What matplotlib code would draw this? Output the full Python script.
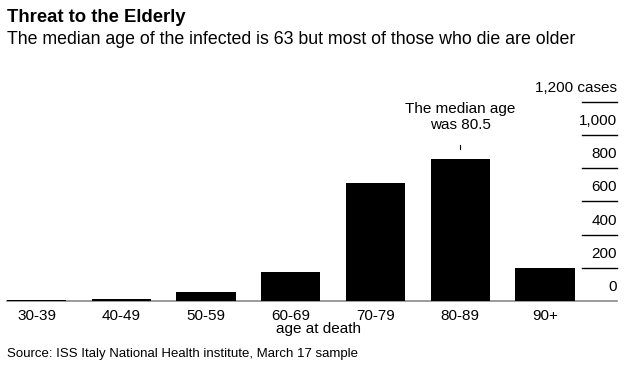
import matplotlib
matplotlib.use("Agg")
import matplotlib.pyplot as plt
from matplotlib.transforms import blended_transform_factory

plt.rcParams['font.family'] = ['Liberation Sans', 'DejaVu Sans']

age_groups = ['30-39', '40-49', '50-59', '60-69', '70-79', '80-89', '90+']
deaths = [6, 14, 54, 175, 710, 855, 198]
y_ticks = [0, 200, 400, 600, 800, 1000, 1200]
y_labels = ['0', '200', '400', '600', '800', '1,000', '1,200 cases']

W, H = 638, 369
fig = plt.figure(figsize=(W / 100, H / 100), dpi=100)

# axes placed in pixel terms: baseline at y=301, 1,200 line at y=101.7
left, right, bottom, top = 7, 617, 301, 101.7
ax = fig.add_axes([left / W, 1 - bottom / H, (right - left) / W, (bottom - top) / H])

x = list(range(len(age_groups)))
ax.bar(x, deaths, width=0.7, color='black', zorder=3)
ax.set_xlim(-0.348, 6.85)
ax.set_ylim(0, 1200)

for s in ['top', 'right', 'left']:
    ax.spines[s].set_visible(False)
ax.spines['bottom'].set_color('#8a8a8a')
ax.spines['bottom'].set_linewidth(1.2)
ax.set_yticks([])
ax.set_xticks(x)
ax.set_xticklabels(age_groups, fontsize=11)
ax.tick_params(axis='x', length=0, pad=6)

# short gridline stubs on the right with labels above them
tr = blended_transform_factory(ax.transAxes, ax.transData)
for v, lab in zip(y_ticks, y_labels):
    if v > 0:
        ax.plot([0.943, 1.0], [v, v], color='black', lw=1, transform=tr, clip_on=False)
    ax.annotate(lab, xy=(1.0, v), xycoords=tr, xytext=(0, 5), textcoords='offset points',
                ha='right', va='bottom', fontsize=11)

# median annotation above the 80-89 bar
ax.plot([5, 5], [915, 940], color='black', lw=0.8)
ax.text(5, 1018, 'The median age\nwas 80.5', ha='center', va='bottom', fontsize=11,
        linespacing=1.15)

fig.text(319 / W, 1 - 329.5 / H, 'age at death', ha='center', va='center', fontsize=11)

fig.text(7 / W, 1 - 17 / H, 'Threat to the Elderly', ha='left', va='center',
         fontsize=13.3, fontweight='bold')
fig.text(7 / W, 1 - 40 / H, 'The median age of the infected is 63 but most of those who die are older',
         ha='left', va='center', fontsize=12.8)
fig.text(7 / W, 1 - 354 / H, 'Source: ISS Italy National Health institute, March 17 sample',
         ha='left', va='center', fontsize=9.5)

fig.savefig('out.png', dpi=100)
